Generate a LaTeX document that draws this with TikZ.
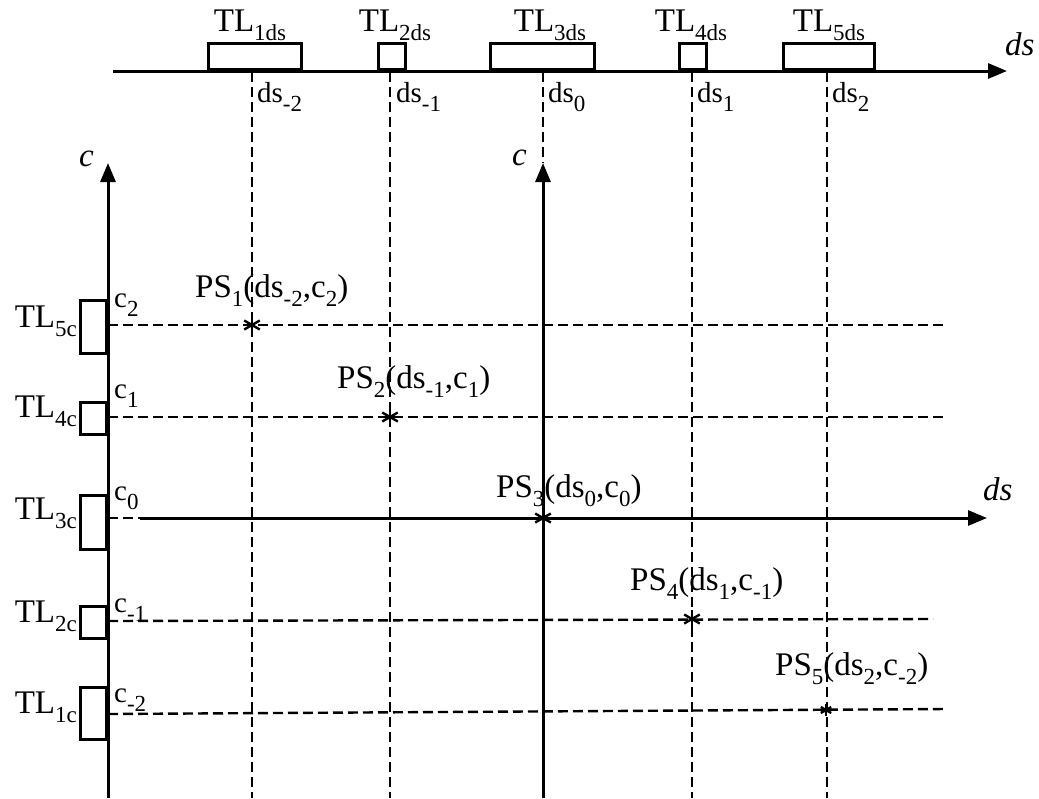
\documentclass[tikz,border=0pt]{standalone}
\usepackage{fontspec}
\setmainfont{Liberation Serif}
\usetikzlibrary{arrows.meta}
\newcommand\dn[1]{\raisebox{-9pt}{\fontsize{23}{26}\selectfont #1}}
\begin{document}
\begin{tikzpicture}[x=1pt,y=-1pt,
  axis/.style={line width=3pt},
  arr/.style={axis,-{Triangle[length=19pt,width=15pt]}},
  grid/.style={line width=2.4pt,dash pattern=on 10pt off 5pt},
  tlbox/.style={draw,line width=2.6pt,inner sep=0pt,anchor=south west},
  lbox/.style={draw,line width=2.6pt,inner sep=0pt,anchor=north east,minimum width=26pt},
  big/.style={font=\fontsize{33}{38}\selectfont,inner sep=0pt},
  mid/.style={font=\fontsize{29}{34}\selectfont,inner sep=0pt},
  starline/.style={line width=2.4pt}]
\useasboundingbox (0,0) rectangle (1039,798);
% ---- top ds axis
\coordinate (tA) at (113,71); \coordinate (tB) at (1007,71);
\draw[arr] (tA) -- (tB);
\node[big,anchor=base west] (tds) at (1005,55) {\itshape ds};
\node[tlbox,minimum width=93pt,minimum height=26pt] (b1) at (207,71) {};
\node[tlbox,minimum width=27pt,minimum height=26pt] (b2) at (377,71) {};
\node[tlbox,minimum width=104pt,minimum height=26pt] (b3) at (489,71) {};
\node[tlbox,minimum width=27pt,minimum height=26pt] (b4) at (678,71) {};
\node[tlbox,minimum width=91pt,minimum height=26pt] (b5) at (782,71) {};
\node[big,anchor=base] (lb1) at (250,31) {TL\dn{1ds}};
\node[big,anchor=base] (lb2) at (395,31) {TL\dn{2ds}};
\node[big,anchor=base] (lb3) at (550,31) {TL\dn{3ds}};
\node[big,anchor=base] (lb4) at (691,31) {TL\dn{4ds}};
\node[big,anchor=base] (lb5) at (829,31) {TL\dn{5ds}};
\node[mid,anchor=base west] (ld1) at (257,102) {ds\dn{-2}};
\node[mid,anchor=base west] (ld2) at (396,102) {ds\dn{-1}};
\node[mid,anchor=base west] (ld3) at (548,102) {ds\dn{0}};
\node[mid,anchor=base west] (ld4) at (697,102) {ds\dn{1}};
\node[mid,anchor=base west] (ld5) at (832,102) {ds\dn{2}};
% ---- vertical dashed lines
\foreach \n/\x in {1/252,2/390,4/692,5/827}{
  \coordinate (v\n t) at (\x,72); \coordinate (v\n b) at (\x,798);
  \draw[grid] (v\n t) -- (v\n b);}
\coordinate (v3t) at (543,72); \coordinate (mT) at (543,163); \coordinate (mA) at (543,798);
\draw[grid] (v3t) -- (mT);
% ---- c axes
\coordinate (lA) at (108,798); \coordinate (lT) at (108,163);
\draw[arr] (lA) -- (lT);
\draw[arr] (mA) -- (mT);
\node[big,anchor=base west] (lc) at (79,166) {\itshape c};
\node[big,anchor=base west] (mc) at (512,165) {\itshape c};
% ---- horizontal lines
\coordinate (h2a) at (108,325); \coordinate (h2b) at (945,325);
\coordinate (h1a) at (108,417); \coordinate (h1b) at (945,417);
\coordinate (h0a) at (108,518); \coordinate (h0m) at (140,518); \coordinate (h0b) at (987,518);
\coordinate (hm1a) at (108,621); \coordinate (hm1b) at (933,619);
\coordinate (hm2a) at (108,714); \coordinate (hm2b) at (947,709);
\draw[grid] (h2a) -- (h2b);
\draw[grid] (h1a) -- (h1b);
\draw[grid] (h0a) -- (h0m);
\draw[arr] (h0m) -- (h0b);
\draw[grid] (hm1a) -- (hm1b);
\draw[grid] (hm2a) -- (hm2b);
\node[big,anchor=base west] (hds) at (983,500) {\itshape ds};
% ---- left boxes
\node[lbox,minimum height=53pt] (c5b) at (108,299) {};
\node[lbox,minimum height=32pt] (c4b) at (108,401) {};
\node[lbox,minimum height=54pt] (c3b) at (108,494) {};
\node[lbox,minimum height=32pt] (c2b) at (108,605) {};
\node[lbox,minimum height=52pt] (c1b) at (108,686) {};
\node[big,anchor=base east] (tc5) at (77,327) {TL\dn{5c}};
\node[big,anchor=base east] (tc4) at (77,417) {TL\dn{4c}};
\node[big,anchor=base east] (tc3) at (77,519) {TL\dn{3c}};
\node[big,anchor=base east] (tc2) at (77,622) {TL\dn{2c}};
\node[big,anchor=base east] (tc1) at (77,713) {TL\dn{1c}};
\node[mid,anchor=base west] (cc2) at (114,307) {c\dn{2}};
\node[mid,anchor=base west] (cc1) at (114,398) {c\dn{1}};
\node[mid,anchor=base west] (cc0) at (114,500) {c\dn{0}};
\node[mid,anchor=base west] (ccm1) at (114,612) {c\dn{-1}};
\node[mid,anchor=base west] (ccm2) at (114,702) {c\dn{-2}};
% ---- points
\coordinate (p1) at (252,325); \coordinate (p2) at (390,417);
\coordinate (p3) at (543,518); \coordinate (p4) at (692,619);
\coordinate (p5) at (826,710);
\foreach \p in {p1,p2,p3,p4}{
  \foreach \a in {90,30,-30}{
    \draw[starline] ([shift={(\a:9)}]\p) -- ([shift={(\a+180:9)}]\p);}}
\foreach \a in {90,30,-30}{
  \draw[starline] ([shift={(\a:6)}]p5) -- ([shift={(\a+180:6)}]p5);}
\node[big,anchor=base west] (ps1) at (195,297) {PS\dn{1}(ds\dn{-2},c\dn{2})};
\node[big,anchor=base west] (ps2) at (337,388) {PS\dn{2}(ds\dn{-1},c\dn{1})};
\node[big,anchor=base west] (ps3) at (496,497) {PS\dn{3}(ds\dn{0},c\dn{0})};
\node[big,anchor=base west] (ps4) at (630,590) {PS\dn{4}(ds\dn{1},c\dn{-1})};
\node[big,anchor=base west] (ps5) at (775,675) {PS\dn{5}(ds\dn{2},c\dn{-2})};
\end{tikzpicture}
\end{document}
